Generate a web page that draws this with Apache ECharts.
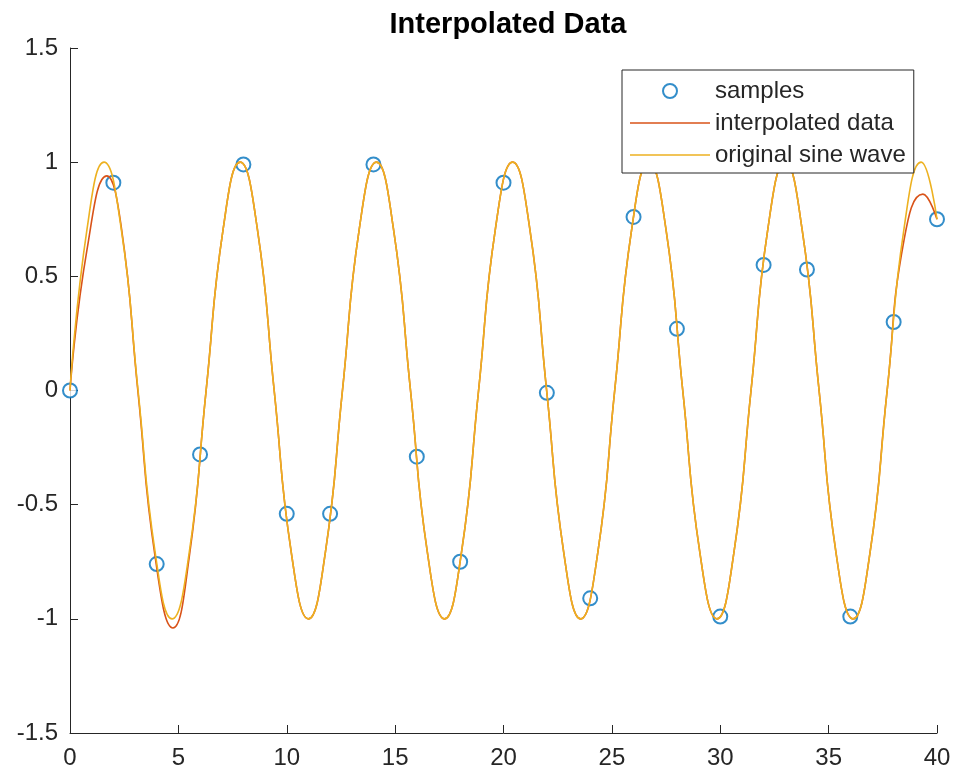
<!DOCTYPE html>
<html>
<head>
<meta charset="utf-8">
<title>Interpolated Data</title>
<script src="https://cdn.jsdelivr.net/npm/echarts@6/dist/echarts.min.js"></script>
<style>
  html, body { margin: 0; padding: 0; background: #fff; }
  #chart { width: 957px; height: 778px; }
</style>
</head>
<body>
<div id="chart"></div>
<script>
// samples taken every 2 units
const sampleX = [0, 2, 4, 6, 8, 10, 12, 14, 16, 18, 20, 22, 24, 26, 28, 30, 32, 34, 36, 38, 40];
const sampleY = [0, 0.91, -0.76, -0.28, 0.99, -0.54, -0.54, 0.99, -0.29, -0.75, 0.91, -0.01,
  -0.91, 0.76, 0.27, -0.99, 0.55, 0.53, -0.99, 0.30, 0.75];

// original sine wave, read at peaks, troughs, crossings and half-way points
const sineX = [0, 0.79, 1.57, 2.36, 3.14, 3.93, 4.71, 5.50, 6.28, 7.07, 7.85, 8.64, 9.42, 10.21,
  11.00, 11.78, 12.57, 13.35, 14.14, 14.92, 15.71, 16.49, 17.28, 18.06, 18.85, 19.63, 20.42,
  21.21, 21.99, 22.78, 23.56, 24.35, 25.13, 25.92, 26.70, 27.49, 28.27, 29.06, 29.85, 30.63,
  31.42, 32.20, 32.99, 33.77, 34.56, 35.34, 36.13, 36.91, 37.70, 38.48, 39.27, 40];
const sineY = [0, 0.71, 1, 0.71, 0, -0.71, -1, -0.71,
  0, 0.71, 1, 0.71, 0, -0.71, -1, -0.71,
  0, 0.71, 1, 0.71, 0, -0.71, -1, -0.71,
  0, 0.71, 1, 0.71, 0, -0.71, -1, -0.71,
  0, 0.71, 1, 0.71, 0, -0.71, -1, -0.71,
  0, 0.71, 1, 0.71, 0, -0.71, -1, -0.71,
  0, 0.71, 1, 0.75];

// interpolated data (spline) - differs from the sine near the ends
const interpX = [0, 0.79, 1.70, 2.36, 3.14, 3.93, 4.75, 5.50, 6.28, 7.07, 7.85, 8.64, 9.42, 10.21,
  11.00, 11.78, 12.57, 13.35, 14.14, 14.92, 15.71, 16.49, 17.28, 18.06, 18.85, 19.63, 20.42,
  21.21, 21.99, 22.78, 23.56, 24.35, 25.13, 25.92, 26.70, 27.49, 28.27, 29.06, 29.85, 30.63,
  31.42, 32.20, 32.99, 33.77, 34.56, 35.34, 36.13, 36.91, 37.70, 38.48, 39.35, 40];
const interpY = [0, 0.62, 0.94, 0.72, -0.01, -0.73, -1.04, -0.73,
  0, 0.71, 1, 0.71, 0, -0.71, -1, -0.71,
  0, 0.71, 1, 0.71, 0, -0.71, -1, -0.71,
  0, 0.71, 1, 0.71, 0, -0.71, -1, -0.71,
  0, 0.71, 1, 0.71, 0, -0.71, -1, -0.71,
  0, 0.71, 1, 0.71, 0, -0.71, -1, -0.71,
  0, 0.66, 0.86, 0.75];

const zip = (xs, ys) => xs.map((x, i) => [x, ys[i]]);

const axisColor = '#262626';
const font = 'Liberation Sans, Arial, Helvetica, sans-serif';
const lineIcon = 'path://M0,0 L80,0 L80,1.6 L0,1.6 Z';

const chart = echarts.init(document.getElementById('chart'));

chart.setOption({
  animation: false,
  backgroundColor: '#fff',
  title: {
    text: 'Interpolated Data',
    left: 503,
    textAlign: 'center',
    top: 5,
    textStyle: { fontFamily: font, fontSize: 29, fontWeight: 'bold', color: '#000' }
  },
  legend: {
    left: 622,
    top: 70,
    orient: 'vertical',
    padding: [9, 8, 6, 8],
    itemWidth: 80,
    itemHeight: 14,
    itemGap: 8,
    borderColor: axisColor,
    borderWidth: 1,
    backgroundColor: '#fff',
    textStyle: { fontFamily: font, fontSize: 24, color: axisColor, lineHeight: 22 },
    data: [
      { name: 'samples' },
      { name: 'interpolated data', icon: lineIcon },
      { name: 'original sine wave', icon: lineIcon }
    ]
  },
  grid: { left: 70, right: 20, top: 48, bottom: 45 },
  xAxis: {
    type: 'value',
    min: 0,
    max: 40,
    interval: 5,
    axisLine: { onZero: false, lineStyle: { color: axisColor, width: 1 } },
    axisTick: { inside: true, length: 8, lineStyle: { color: axisColor } },
    axisLabel: { fontFamily: font, fontSize: 24, color: axisColor, margin: 13 },
    splitLine: { show: false }
  },
  yAxis: {
    type: 'value',
    min: -1.5,
    max: 1.5,
    interval: 0.5,
    axisLine: { show: true, onZero: false, lineStyle: { color: axisColor, width: 1 } },
    axisTick: { show: true, inside: true, length: 8, lineStyle: { color: axisColor } },
    axisLabel: { fontFamily: font, fontSize: 24, color: axisColor, margin: 12 },
    splitLine: { show: false }
  },
  series: [
    {
      name: 'samples',
      type: 'scatter',
      symbol: 'emptyCircle',
      symbolSize: 14,
      itemStyle: { color: '#0072BD', borderWidth: 1.6 },
      data: zip(sampleX, sampleY)
    },
    {
      name: 'interpolated data',
      type: 'line',
      smooth: true,
      symbol: 'none',
      lineStyle: { color: '#D95319', width: 1.6 },
      itemStyle: { color: '#D95319' },
      data: zip(interpX, interpY)
    },
    {
      name: 'original sine wave',
      type: 'line',
      smooth: true,
      symbol: 'none',
      lineStyle: { color: '#EDB120', width: 1.6 },
      itemStyle: { color: '#EDB120' },
      data: zip(sineX, sineY)
    }
  ]
});
</script>
</body>
</html>
